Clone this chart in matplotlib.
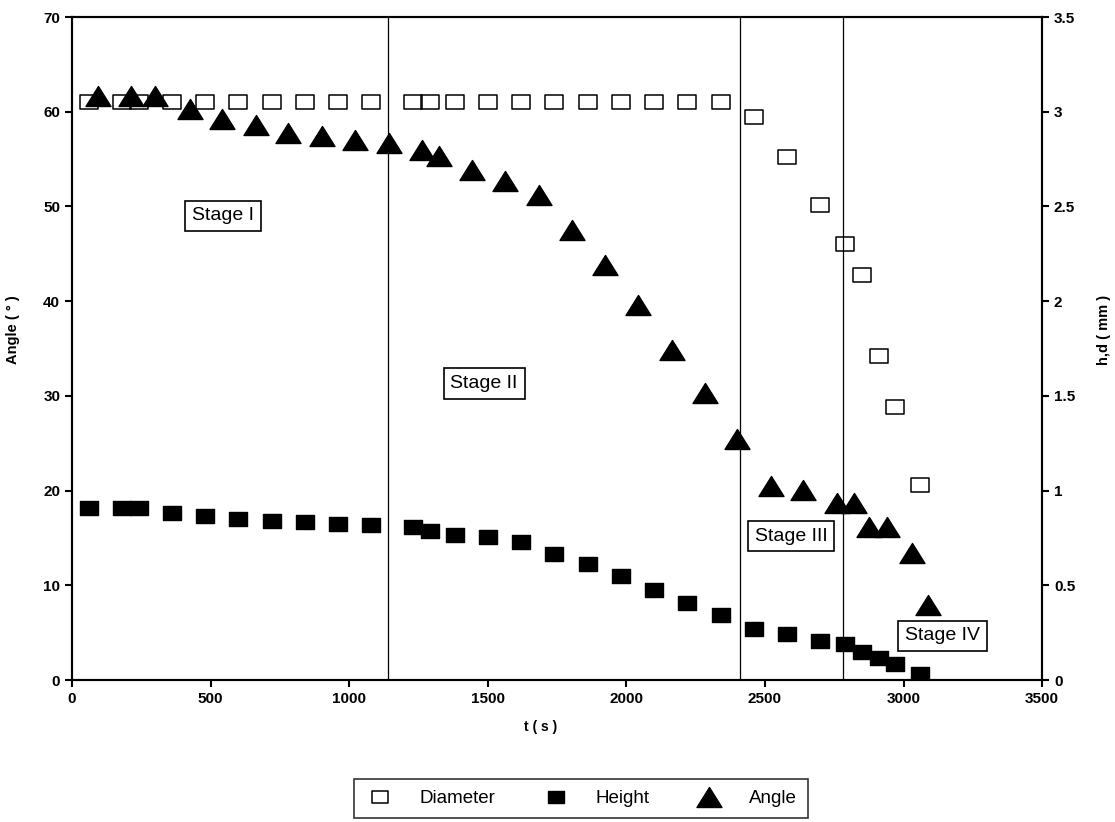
import numpy as np
import matplotlib
matplotlib.use("Agg")
import matplotlib.pyplot as plt
from matplotlib.path import Path
from matplotlib.lines import Line2D
from matplotlib.ticker import FuncFormatter

plt.rcParams['font.family'] = ['Liberation Sans', 'DejaVu Sans']

# ----- data -----
t_hd = [60, 180, 240, 360, 480, 600, 720, 840, 960, 1080, 1230, 1290, 1380, 1500,
        1620, 1740, 1860, 1980, 2100, 2220, 2340, 2460, 2580, 2700, 2790, 2850,
        2910, 2970, 3060]
diameter = [3.05, 3.05, 3.05, 3.05, 3.05, 3.05, 3.05, 3.05, 3.05, 3.05, 3.05, 3.05,
            3.05, 3.05, 3.05, 3.05, 3.05, 3.05, 3.05, 3.05, 3.05, 2.97, 2.76, 2.51,
            2.30, 2.14, 1.71, 1.44, 1.03]
height = [0.907, 0.907, 0.907, 0.882, 0.864, 0.850, 0.839, 0.833, 0.825, 0.818,
          0.806, 0.788, 0.766, 0.757, 0.730, 0.667, 0.612, 0.551, 0.474, 0.407,
          0.342, 0.271, 0.244, 0.206, 0.188, 0.148, 0.118, 0.084, 0.030]

t_angle = [95, 213, 301, 425, 542, 663, 781, 903, 1021, 1143, 1262, 1324, 1442, 1563,
           1684, 1803, 1923, 2043, 2165, 2284, 2399, 2521, 2639, 2760, 2820, 2876,
           2940, 3030, 3087]
angle = [61.7, 61.7, 61.7, 60.3, 59.2, 58.6, 57.8, 57.4, 57.0, 56.7, 56.0, 55.3, 53.8,
         52.7, 51.2, 47.5, 43.8, 39.6, 34.8, 30.3, 25.4, 20.5, 20.1, 18.7, 18.7, 16.2,
         16.2, 13.4, 7.9]

stage_bounds = [1140, 2410, 2782]
stage_names = ["Stage I", "Stage II", "Stage III", "Stage IV"]
stage_pos = [(545, 49.0), (1487, 31.3), (2595, 15.2), (3141, 4.65)]

# ----- marker shapes -----
rect = Path([(-1.3, -1), (1.3, -1), (1.3, 1), (-1.3, 1), (-1.3, -1)],
            [Path.MOVETO, Path.LINETO, Path.LINETO, Path.LINETO, Path.CLOSEPOLY])
tri = Path([(0, 0.8), (-1, -0.8), (1, -0.8), (0, 0.8)],
           [Path.MOVETO, Path.LINETO, Path.LINETO, Path.CLOSEPOLY])

fig = plt.figure(figsize=(11.15, 8.22), dpi=100)
ax = fig.add_axes([0.0646, 0.1727, 0.870, 0.8066])
ax2 = ax.twinx()
ax.set_zorder(ax2.get_zorder() + 1)
ax.patch.set_visible(False)

ax2.plot(t_hd, diameter, ls='none', marker=rect, ms=12.6, mfc='none',
         mec='black', mew=1.1)
ax2.plot(t_hd, height, ls='none', marker=rect, ms=12.6, mfc='black',
         mec='black', mew=1.0)
ax.plot(t_angle, angle, ls='none', marker=tri, ms=18, mfc='black', mec='black')

for b in stage_bounds:
    ax.axvline(b, color='black', lw=0.9, zorder=1)

for name, (x, y) in zip(stage_names, stage_pos):
    ax.text(x, y, name, fontsize=14, ha='center', va='center', zorder=10,
            bbox=dict(boxstyle='square,pad=0.35', fc='white', ec='black', lw=1.2))

ax.set_xlim(0, 3500)
ax.set_ylim(0, 70)
ax2.set_ylim(0, 3.5)
ax.set_xticks(np.arange(0, 3501, 500))
ax.set_yticks(np.arange(0, 71, 10))
ax2.set_yticks(np.arange(0, 3.51, 0.5))
ax2.yaxis.set_major_formatter(FuncFormatter(lambda v, p: '%g' % v))

for a in (ax, ax2):
    for s in a.spines.values():
        s.set_linewidth(1.5)
    a.tick_params(direction='out', length=5, width=1.5, labelsize=11)
    for lab in a.get_xticklabels() + a.get_yticklabels():
        lab.set_fontweight('bold')

ax.set_xlabel("t ( s )", fontsize=10, fontweight='bold')
ax.xaxis.set_label_coords(0.4826, -0.06)
ax.set_ylabel("Angle ( ° )", fontsize=10.5, fontweight='bold')
ax.yaxis.set_label_coords(-0.054, 0.528)
ax2.set_ylabel("h,d ( mm )", fontsize=10.5, fontweight='bold')
ax2.yaxis.set_label_coords(1.057, 0.528)

handles = [
    Line2D([], [], ls='none', marker=rect, ms=11, mfc='none', mec='black', mew=1.1),
    Line2D([], [], ls='none', marker=rect, ms=11, mfc='black', mec='black'),
    Line2D([], [], ls='none', marker=tri, ms=18, mfc='black', mec='black'),
]
leg = fig.legend(handles, ["Diameter", "Height", "Angle"], ncol=3,
                 loc='upper center', bbox_to_anchor=(0.521, 0.064),
                 fontsize=13.5, frameon=True, fancybox=False, edgecolor='black',
                 handletextpad=1.3, columnspacing=2.4, borderpad=0.6,
                 handlelength=1.6)
leg.get_frame().set_linewidth(1.2)

fig.savefig("out.png", dpi=100)
